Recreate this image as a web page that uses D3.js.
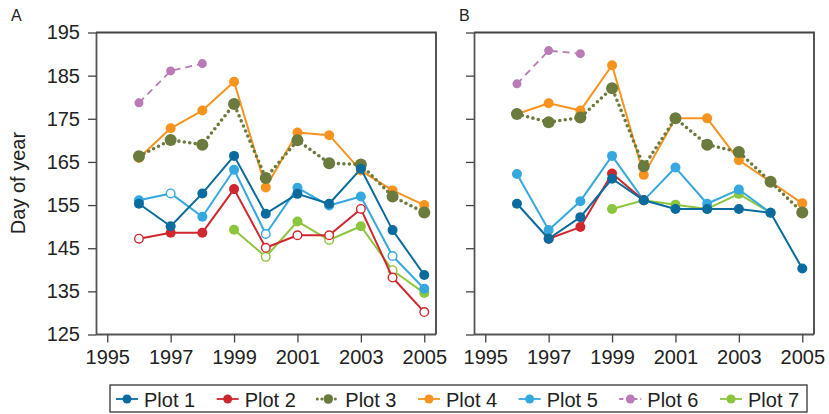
<!DOCTYPE html>
<html>
<head>
<meta charset="utf-8">
<script src="https://cdn.jsdelivr.net/npm/d3@7"></script>
<style>
  html, body { margin: 0; padding: 0; background: #fff; }
  svg { display: block; font-family: "Liberation Sans", Arial, Helvetica, sans-serif; }
</style>
</head>
<body>
<svg id="chart" width="829" height="414"></svg>
<script>
// ---------------- DATA ----------------
const years = [1996, 1997, 1998, 1999, 2000, 2001, 2002, 2003, 2004, 2005];
const xTicks = [1995, 1997, 1999, 2001, 2003, 2005];
const yTicks = [125, 135, 145, 155, 165, 175, 185, 195];
const seriesNames = ["Plot 1", "Plot 2", "Plot 3", "Plot 4", "Plot 5", "Plot 6", "Plot 7"];
const panelNames = ["A", "B"];

// Panel A
const plot1A = [155.3, 150.1, 157.7, 166.4, 153.0, 157.6, 155.3, 163.4, 149.2, 138.8];
const plot2A = [147.2, 148.6, 148.6, 158.7, 145.1, 148.0, 148.0, 154.1, 138.2, 130.2];
const plot3A = [166.3, 170.1, 169.0, 178.4, 161.3, 170.0, 164.7, 164.4, 157.0, 153.3];
const plot4A = [165.9, 172.8, 176.9, 183.6, 159.1, 171.8, 171.2, 163.0, 158.4, 155.0];
const plot5A = [156.1, 157.7, 152.3, 163.2, 148.3, 159.0, 154.9, 157.0, 143.2, 135.6];
const plot6A = [178.7, 186.1, 187.8, null, null, null, null, null, null, null];
const plot7A = [null, null, null, 149.3, 143.0, 151.2, 146.9, 150.1, 139.9, 134.6];
// open (hollow) markers in panel A: 1 = open
const plot2AOpen = [1, 0, 0, 0, 1, 1, 1, 1, 1, 1];
const plot5AOpen = [0, 1, 0, 0, 1, 0, 0, 0, 1, 0];
const plot7AOpen = [0, 0, 0, 0, 1, 0, 1, 0, 1, 0];

// Panel B
const plot1B = [155.3, 147.2, 152.2, 161.1, 156.1, 154.1, 154.1, 154.1, 153.2, 140.3];
const plot2B = [null, 147.2, 149.9, 162.3, 156.1, null, null, null, null, null];
const plot3B = [176.1, 174.2, 175.3, 182.1, 164.0, 175.1, 169.0, 167.3, 160.4, 153.3];
const plot4B = [176.1, 178.6, 176.9, 187.4, 162.0, 175.1, 175.1, 165.4, 160.4, 155.4];
const plot5B = [162.2, 149.2, 155.9, 166.4, 156.1, 163.7, 155.3, 158.6, 153.2, null];
const plot6B = [183.1, 190.8, 190.1, null, null, null, null, null, null, null];
const plot7B = [null, null, null, 154.1, 156.1, 155.1, 154.1, 157.6, 153.2, null];

// ---------------- STYLE ----------------
const colors = ["#0a6b9e", "#d0262d", "#6b7a3d", "#f7931e", "#35a8e0", "#b97bb6", "#8cc63f"];
const styles = [
  { w: 2, dash: null, r: 5 },
  { w: 2, dash: null, r: 5 },
  { w: 3.6, dash: "0,5.5", r: 6, cap: "round" },
  { w: 2, dash: null, r: 5 },
  { w: 2, dash: null, r: 5 },
  { w: 1.8, dash: "7,5", r: 4.5 },
  { w: 2, dash: null, r: 5 }
];

const panelsData = [
  { name: panelNames[0], left: 96, right: 436, labels: true,
    series: [plot1A, plot2A, plot3A, plot4A, plot5A, plot6A, plot7A],
    open: [null, plot2AOpen, null, null, plot5AOpen, null, plot7AOpen] },
  { name: panelNames[1], left: 474, right: 814, labels: false,
    series: [plot1B, plot2B, plot3B, plot4B, plot5B, plot6B, plot7B],
    open: [null, null, null, null, null, null, null] }
];

const plotTop = 32.5, plotBottom = 334.5;
const svg = d3.select("#chart");
const tickFont = 20;

const y = d3.scaleLinear().domain([125, 195]).range([plotBottom, plotTop]);

panelsData.forEach(p => {
  const x = d3.scaleLinear().domain([1994.645, 2005.37]).range([p.left, p.right]);
  const g = svg.append("g");

  // y axis
  const ya = g.append("g").attr("transform", `translate(${p.left},0)`)
    .call(d3.axisLeft(y).tickValues(yTicks).tickSize(8).tickSizeOuter(0).tickPadding(8)
      .tickFormat(p.labels ? d3.format("d") : () => ""));
  // x axis
  const xa = g.append("g").attr("transform", `translate(0,${plotBottom})`)
    .call(d3.axisBottom(x).tickValues(xTicks).tickSize(8).tickSizeOuter(0).tickPadding(7).tickFormat(d3.format("d")));
  [ya, xa].forEach(a => {
    a.selectAll("text").attr("font-size", tickFont).attr("fill", "#222")
      .attr("font-family", "'Liberation Sans', Arial, sans-serif");
    a.selectAll("line").attr("stroke", "#444").attr("stroke-width", 1.3);
    a.select(".domain").attr("stroke", "#555").attr("stroke-width", 1.8);
  });
  xa.select(".domain").attr("d", `M${p.left},0H${p.right}`);
  // top & right border
  g.append("path")
    .attr("d", `M${p.left},${plotTop}H${p.right}V${plotBottom}`)
    .attr("fill", "none").attr("stroke", "#444").attr("stroke-width", 1.8);

  // panel letter
  svg.append("text").attr("x", p.left - 85 + (p.labels ? 0 : 70)).attr("y", 21)
    .attr("font-size", 16).attr("fill", "#222").text(p.name);

  // series, drawn so Plot 1 ends on top
  const order = [6, 5, 4, 3, 2, 1, 0];
  order.forEach(si => {
    const vals = p.series[si];
    const pts = years.map((yr, i) => ({ yr, v: vals[i], open: p.open[si] ? p.open[si][i] : 0 }))
      .filter(d => d.v !== null);
    const st = styles[si];
    const line = d3.line().x(d => x(d.yr)).y(d => y(d.v));
    g.append("path").datum(pts).attr("d", line)
      .attr("fill", "none").attr("stroke", colors[si]).attr("stroke-width", st.w)
      .attr("stroke-dasharray", st.dash).attr("stroke-linecap", st.cap || "butt")
      .attr("stroke-linejoin", "round");
    g.selectAll(null).data(pts).enter().append("circle")
      .attr("cx", d => x(d.yr)).attr("cy", d => y(d.v))
      .attr("r", d => d.open ? st.r - 0.7 : st.r)
      .attr("fill", d => d.open ? "#fff" : colors[si])
      .attr("stroke", colors[si]).attr("stroke-width", d => d.open ? 1.4 : 0);
  });
});

// y label
svg.append("text").attr("transform", "translate(25,183) rotate(-90)")
  .attr("text-anchor", "middle").attr("font-size", 20).attr("fill", "#222").text("Day of year");

// legend
const lg = svg.append("g");
lg.append("rect").attr("x", 110).attr("y", 385).attr("width", 697).attr("height", 27)
  .attr("fill", "#fff").attr("stroke", "#333").attr("stroke-width", 1.3);
const lx = d3.scaleLinear().domain([0, 6]).range([116, 720]);
seriesNames.forEach((n, i) => {
  const x0 = lx(i);
  const gi = lg.append("g").attr("transform", `translate(${x0},399)`);
  gi.append("line").attr("x1", 0).attr("x2", 22).attr("y1", 0).attr("y2", 0)
    .attr("stroke", colors[i]).attr("stroke-width", i === 2 ? 3 : 1.8)
    .attr("stroke-dasharray", i === 2 ? "0,4.5" : (i === 5 ? "4,3" : null))
    .attr("stroke-linecap", i === 2 ? "round" : "butt");
  gi.append("circle").attr("cx", 11).attr("cy", 0).attr("r", i === 2 ? 4.8 : 4.5).attr("fill", colors[i]);
  gi.append("text").attr("x", 28).attr("y", 7.5).attr("font-size", 20).attr("fill", "#222").text(n);
});
</script>
</body>
</html>
